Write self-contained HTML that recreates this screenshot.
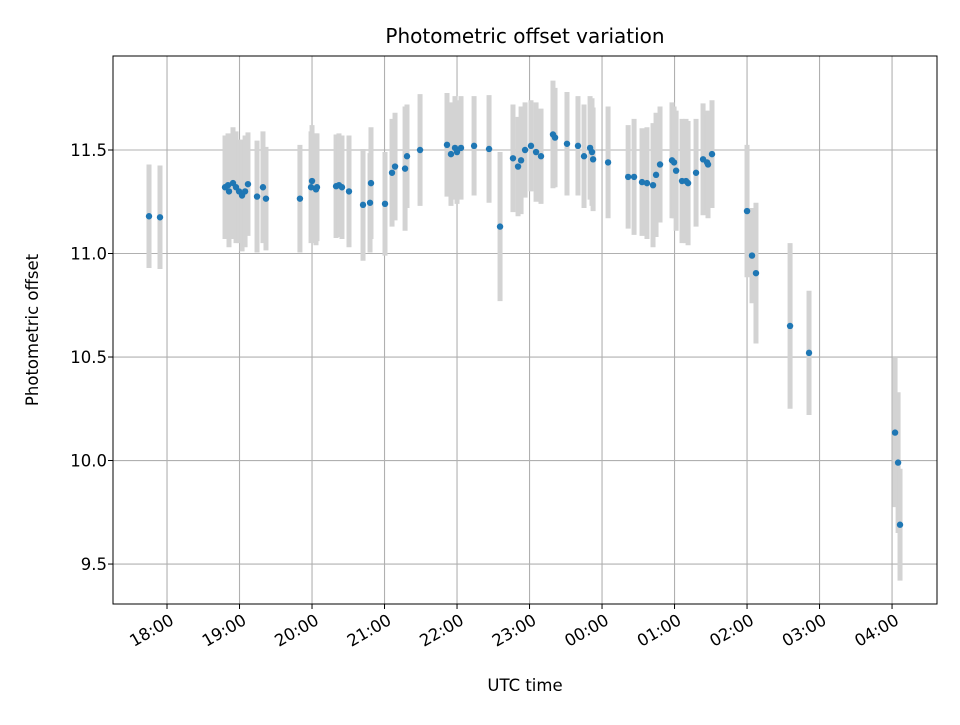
<!DOCTYPE html>
<html><head><meta charset="utf-8"><style>
body{margin:0;background:#fff;font-family:"Liberation Sans","DejaVu Sans",sans-serif}
</style></head><body>
<svg id="chart" width="960" height="720" xmlns="http://www.w3.org/2000/svg" font-family="'DejaVu Sans','Liberation Sans',sans-serif">
<rect width="960" height="720" fill="#fff"/>
<text x="525" y="43" text-anchor="middle" font-size="20">Photometric offset variation</text>
<text x="525" y="691" text-anchor="middle" font-size="16.5">UTC time</text>
<text transform="translate(38,330) rotate(-90)" text-anchor="middle" font-size="16.5">Photometric offset</text>
<g id="grid"></g><g id="bars"></g><g id="dots"></g><g id="axes"></g>
</svg>
<script>
const minutes=[-14.9,-5.8,48,50.5,51.3,54.6,57.1,59.6,62.1,64.6,67,74.5,79.4,81.9,110,119.2,120,123.3,124.1,139.9,142.3,144.8,150.6,162.2,168,168.8,180.4,186.2,188.7,197,198.6,209.4,231.7,235,238.3,240,243.3,254.1,266.5,275.6,286.3,290.5,293,296.3,301.2,305.4,309.5,319.4,321.1,331,340.1,345.1,350.1,351.7,352.6,365,381.6,386.5,393.1,397.2,402.2,404.7,408,417.9,419.6,421.3,426.2,429.5,431.2,437.8,443.6,446.9,447.7,451,480,484.1,487.4,515.6,531.3,602.5,605,606.6];
const offsets=[11.18,11.175,11.32,11.33,11.30,11.34,11.32,11.30,11.28,11.30,11.335,11.275,11.32,11.265,11.265,11.32,11.35,11.31,11.32,11.325,11.33,11.32,11.30,11.235,11.245,11.34,11.24,11.39,11.42,11.41,11.47,11.50,11.525,11.48,11.51,11.49,11.51,11.52,11.505,11.13,11.46,11.42,11.45,11.50,11.52,11.49,11.47,11.575,11.56,11.53,11.52,11.47,11.51,11.49,11.455,11.44,11.37,11.37,11.345,11.34,11.33,11.38,11.43,11.45,11.44,11.40,11.35,11.35,11.34,11.39,11.455,11.44,11.43,11.48,11.205,10.99,10.905,10.65,10.52,10.135,9.99,9.69];
const errors=[0.25,0.25,0.25,0.25,0.27,0.27,0.27,0.25,0.27,0.27,0.25,0.27,0.27,0.25,0.26,0.27,0.27,0.27,0.26,0.25,0.25,0.25,0.27,0.27,0.24,0.27,0.25,0.26,0.26,0.3,0.25,0.27,0.25,0.25,0.25,0.25,0.25,0.24,0.26,0.36,0.26,0.24,0.26,0.23,0.22,0.24,0.23,0.26,0.24,0.25,0.24,0.25,0.25,0.26,0.25,0.27,0.25,0.28,0.26,0.27,0.3,0.3,0.28,0.28,0.27,0.29,0.3,0.3,0.3,0.26,0.27,0.23,0.26,0.26,0.32,0.23,0.34,0.4,0.3,0.36,0.34,0.27];
const xTickMin=[0,60,120,180,240,300,360,420,480,540,600];
const xTickLabels=["18:00","19:00","20:00","21:00","22:00","23:00","00:00","01:00","02:00","03:00","04:00"];
const yTicks=[9.5,10.0,10.5,11.0,11.5];
const yTickLabels=["9.5","10.0","10.5","11.0","11.5"];
const L=113,R=937,T=56,B=604;
const xMin=-44.7,xMax=637.2,yMin=9.307,yMax=11.954;
const X=v=>L+(v-xMin)/(xMax-xMin)*(R-L);
const Y=v=>B-(v-yMin)/(yMax-yMin)*(B-T);
const NS="http://www.w3.org/2000/svg";
function mk(tag,attrs,parent){const e=document.createElementNS(NS,tag);for(const k in attrs)e.setAttribute(k,attrs[k]);document.getElementById(parent).appendChild(e);return e;}
xTickMin.forEach((m,i)=>{
 const g=mk('line',{x1:X(m),x2:X(m),y1:T,y2:B,stroke:'#b0b0b0','stroke-width':1.1},'grid');
 
 
 const t=mk('line',{x1:X(m),x2:X(m),y1:B,y2:B+5,stroke:'#000'},'axes');
 
 
 const x=X(m);
 const lb=mk('text',{x:0,y:12,'text-anchor':'end','font-size':16.5,transform:`translate(${x+2},${B+9}) rotate(-30)`},'axes');
 lb.textContent=xTickLabels[i];
 
 
});
yTicks.forEach((v,i)=>{
 const g=mk('line',{x1:L,x2:R,y1:Y(v),y2:Y(v),stroke:'#b0b0b0','stroke-width':1.1},'grid');
 
 
 const t=mk('line',{x1:L-5,x2:L,y1:Y(v),y2:Y(v),stroke:'#000'},'axes');
 
 
 const lb=mk('text',{x:L-6,y:Y(v)+6,'text-anchor':'end','font-size':16.5},'axes');
 lb.textContent=yTickLabels[i];
 
 
});
minutes.forEach((m,i)=>{
 const b=mk('line',{x1:X(m),x2:X(m),y1:Y(offsets[i]-errors[i]),y2:Y(offsets[i]+errors[i]),stroke:'#d3d3d3','stroke-width':5},'bars');
 
 
 const d=mk('circle',{cx:X(m),cy:Y(offsets[i]),r:3.2,fill:'#1f77b4'},'dots');
 
 
});
const f=mk('rect',{x:L,y:T,width:R-L,height:B-T,fill:'none',stroke:'#000','stroke-width':1},'axes');


</script>
</body></html>
